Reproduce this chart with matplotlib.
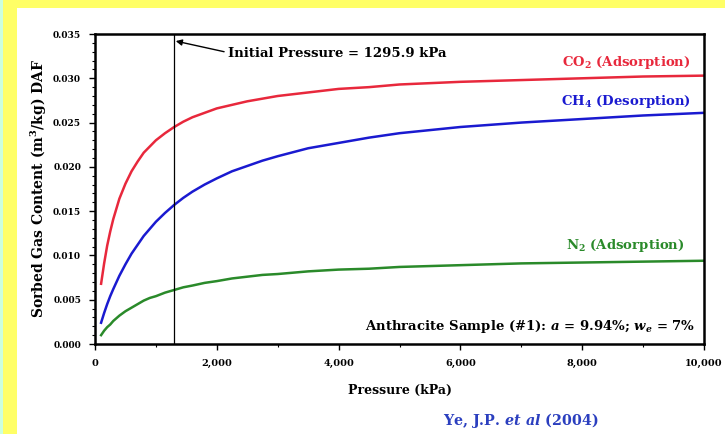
import matplotlib
matplotlib.use("Agg")
import matplotlib.pyplot as plt
from matplotlib.patches import Rectangle
from matplotlib.ticker import MultipleLocator, FuncFormatter

plt.rcParams['font.family'] = ['DejaVu Serif']
plt.rcParams['font.weight'] = 'bold'
plt.rcParams['mathtext.fontset'] = 'custom'
plt.rcParams['mathtext.rm'] = 'DejaVu Serif:bold'
plt.rcParams['mathtext.it'] = 'DejaVu Serif:bold:italic'
plt.rcParams['mathtext.bf'] = 'DejaVu Serif:bold'

# ---- data ----
pressure = [100, 150, 200, 250, 300, 400, 500, 600, 700, 800, 900, 1000, 1150,
            1300, 1450, 1600, 1800, 2000, 2250, 2500, 2750, 3000, 3500, 4000,
            4500, 5000, 6000, 7000, 8000, 9000, 10000]
co2 = [0.0068, 0.0091, 0.0111, 0.0127, 0.0141, 0.0164, 0.0181, 0.0195, 0.0206,
       0.0216, 0.0223, 0.0230, 0.0238, 0.0245, 0.0251, 0.0256, 0.0261, 0.0266,
       0.0270, 0.0274, 0.0277, 0.0280, 0.0284, 0.0288, 0.0290, 0.0293, 0.0296,
       0.0298, 0.0300, 0.0302, 0.0303]
ch4 = [0.0024, 0.0035, 0.0045, 0.0054, 0.0062, 0.0077, 0.0090, 0.0102, 0.0112,
       0.0122, 0.0130, 0.0138, 0.0148, 0.0157, 0.0165, 0.0172, 0.0180, 0.0187,
       0.0195, 0.0201, 0.0207, 0.0212, 0.0221, 0.0227, 0.0233, 0.0238, 0.0245,
       0.0250, 0.0254, 0.0258, 0.0261]
n2 = [0.0010, 0.0015, 0.0019, 0.0022, 0.0026, 0.0032, 0.0037, 0.0041, 0.0045,
      0.0049, 0.0052, 0.0054, 0.0058, 0.0061, 0.0064, 0.0066, 0.0069, 0.0071,
      0.0074, 0.0076, 0.0078, 0.0079, 0.0082, 0.0084, 0.0085, 0.0087, 0.0089,
      0.0091, 0.0092, 0.0093, 0.0094]
initial_pressure = 1295.9
x_ticks = [0, 2000, 4000, 6000, 8000, 10000]
y_ticks = [0.000, 0.005, 0.010, 0.015, 0.020, 0.025, 0.030, 0.035]

W, H = 725, 434
fig = plt.figure(figsize=(W / 100, H / 100), dpi=100, facecolor='white')

# background decoration
fig.patches.append(Rectangle((0, 0), 17 / W, 1, transform=fig.transFigure,
                             facecolor='#ffff66', edgecolor='none', zorder=0))
fig.patches.append(Rectangle((0, 1 - 8 / H), 1, 8 / H, transform=fig.transFigure,
                             facecolor='#ffff66', edgecolor='none', zorder=0))
fig.patches.append(Rectangle((0, 0), 3 / W, 1, transform=fig.transFigure,
                             facecolor='#ccffdd', edgecolor='none', zorder=0))

ax = fig.add_axes([95 / W, (H - 344) / H, (704 - 95) / W, (344 - 34) / H])
ax.set_facecolor('white')

ax.plot(pressure, co2, color='#e8283c', lw=1.8, solid_joinstyle='round')
ax.plot(pressure, ch4, color='#1a1ad0', lw=1.8, solid_joinstyle='round')
ax.plot(pressure, n2, color='#2a8a2a', lw=1.8, solid_joinstyle='round')
ax.axvline(initial_pressure, color='black', lw=0.9)

ax.set_xlim(0, 10000)
ax.set_ylim(0, 0.035)
ax.set_xticks(x_ticks)
ax.set_yticks(y_ticks)
ax.xaxis.set_minor_locator(MultipleLocator(1000))
ax.yaxis.set_minor_locator(MultipleLocator(0.001))
ax.xaxis.set_major_formatter(FuncFormatter(lambda v, p: f"{int(v):,}"))
ax.yaxis.set_major_formatter(FuncFormatter(lambda v, p: f"{v:.3f}"))
ax.tick_params(axis='y', which='major', labelsize=6.5, width=1.0, length=4,
               direction='out', pad=6)
ax.tick_params(axis='x', which='major', labelsize=7, width=1.0, length=4,
               direction='out', pad=7)
ax.tick_params(axis='both', which='minor', width=0.8, length=2.5, direction='out')
for lab in ax.get_xticklabels() + ax.get_yticklabels():
    lab.set_fontweight('bold')
for s in ax.spines.values():
    s.set_linewidth(1.8)

ax.set_xlabel('Pressure (kPa)', fontsize=9, fontweight='bold', labelpad=11)
ax.set_ylabel('Sorbed Gas Content (m$^3$/kg) DAF', fontsize=10, fontweight='bold',
              labelpad=3)

ax.annotate('', xy=(initial_pressure + 30, 0.0342), xytext=(2120, 0.0330),
            arrowprops=dict(arrowstyle='-|>', color='black', lw=1.0,
                            mutation_scale=9, shrinkA=0, shrinkB=0))
ax.text(2180, 0.0328, 'Initial Pressure = 1295.9 kPa', fontsize=9.5,
        fontweight='bold', va='center', ha='left')

ax.text(9780, 0.0318, 'CO$_2$ (Adsorption)', color='#e8283c', fontsize=9.5,
        fontweight='bold', ha='right', va='center')
ax.text(9780, 0.0274, 'CH$_4$ (Desorption)', color='#1a1ad0', fontsize=9.5,
        fontweight='bold', ha='right', va='center')
ax.text(9680, 0.0111, 'N$_2$ (Adsorption)', color='#2a8a2a', fontsize=9.5,
        fontweight='bold', ha='right', va='center')
ax.text(9860, 0.0020, 'Anthracite Sample (#1): $a$ = 9.94%; $w_e$ = 7%',
        fontsize=9.5, fontweight='bold', ha='right', va='center')

fig.text(521 / W, 1 - 421 / H, 'Ye, J.P. $et\\ al$ (2004)', color='#2b3fbf',
         fontsize=10.3, fontweight='bold', ha='center', va='center')

fig.savefig('out.png', dpi=100, facecolor=fig.get_facecolor())
